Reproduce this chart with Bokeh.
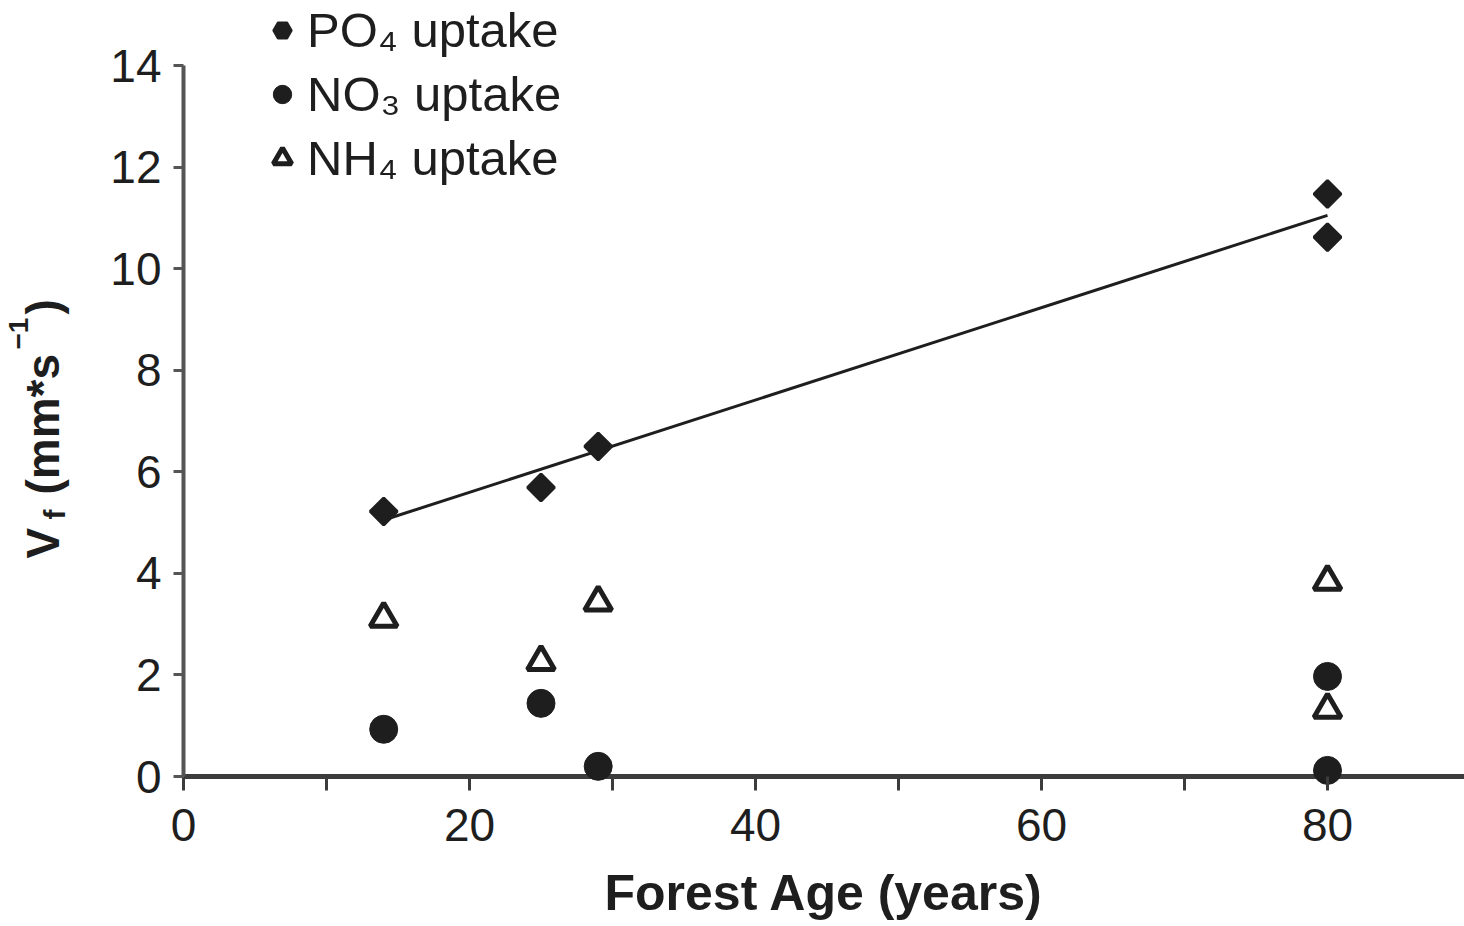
import math

from bokeh.core.properties import value
from bokeh.embed import file_html
from bokeh.layouts import row
from bokeh.models import FixedTicker, Legend, LegendItem, Range1d, Span
from bokeh.plotting import figure
from bokeh.resources import INLINE

# Stream nutrient uptake velocity versus forest age
age = [14, 25, 29, 80, 80]
po4_uptake = [5.22, 5.69, 6.50, 11.47, 10.62]
no3_uptake = [0.93, 1.44, 0.20, 1.97, 0.12]
nh4_uptake = [3.11, 2.26, 3.43, 3.84, 1.32]

# PO4 trend line end points
trend_age = [14, 80]
trend_po4 = [5.05, 11.05]

x_ticks = [0, 20, 40, 60, 80]
x_minor_ticks = [10, 30, 50, 70]
y_ticks = [0, 2, 4, 6, 8, 10, 12, 14]

FONT = "Liberation Sans"
INK = "#1e1e1e"
AXIS = "#3c3c3c"

W, H = 1464, 926
TITLE_W = 100              # strip holding the rotated y title
AXIS_X = 183               # page column of the y axis
LEFT = AXIS_X - TITLE_W    # left border of the main figure
FRAME_H = 790              # frame ends just below the tick marks
BOTTOM = H - FRAME_H

X_END = 89.58
Y_END = 15.28
Y_START = -0.2756          # room under y = 0 for the outward ticks

p = figure(
    width=W - TITLE_W, height=H,
    x_range=Range1d(0, X_END), y_range=Range1d(Y_START, Y_END),
    output_backend="svg", toolbar_location=None,
    min_border_left=LEFT, min_border_right=0,
    min_border_top=0, min_border_bottom=BOTTOM,
)
p.grid.visible = False
p.outline_line_color = None
p.background_fill_color = "white"
p.border_fill_color = "white"

# x axis: line drawn at y = 0, ticks hang below it
xa = p.xaxis[0]
xa.ticker = FixedTicker(ticks=x_ticks, minor_ticks=x_minor_ticks)
xa.axis_line_color = None
xa.major_tick_in = 14
xa.major_tick_out = 0
xa.minor_tick_in = 14
xa.minor_tick_out = 0
xa.major_tick_line_width = 3
xa.minor_tick_line_width = 3
xa.major_tick_line_color = AXIS
xa.minor_tick_line_color = AXIS
xa.major_label_text_font = FONT
xa.major_label_text_font_size = "46px"
xa.major_label_text_color = INK
xa.major_label_standoff = 18
xa.axis_label = "Forest Age (years)"
xa.axis_label_text_font = FONT
xa.axis_label_text_font_style = "bold"
xa.axis_label_text_font_size = "50px"
xa.axis_label_text_color = INK
xa.axis_label_standoff = 21
p.add_layout(Span(location=0, dimension="width", line_color=AXIS,
                  line_width=5, level="underlay"))

ya = p.yaxis[0]
ya.bounds = (0, 14)
ya.ticker = FixedTicker(ticks=y_ticks, minor_ticks=[])
ya.axis_line_color = "#555555"
ya.axis_line_width = 4
ya.major_tick_in = 0
ya.major_tick_out = 10
ya.minor_tick_out = 0
ya.major_tick_line_width = 3
ya.major_tick_line_color = "#555555"
ya.major_label_text_font = FONT
ya.major_label_text_font_size = "46px"
ya.major_label_text_color = INK
ya.major_label_standoff = 12

# data
p.line(trend_age, trend_po4, line_color=INK, line_width=3)
r_nh4 = p.scatter(age, nh4_uptake, marker="triangle", size=27,
                  fill_color="white", line_color=INK, line_width=5)
r_no3 = p.scatter(age, no3_uptake, marker="circle", size=28,
                  fill_color=INK, line_color=INK, line_width=1)
# key glyph for the legend, fully covered by the turned squares on top
r_po4_key = p.scatter(age, po4_uptake, marker="hex", size=18,
                      fill_color=INK, line_color=INK, line_width=2)
p.scatter(age, po4_uptake, marker="square", angle=math.pi / 4,
          size=19, fill_color=INK, line_color=INK, line_width=3)

legend = Legend(
    items=[
        LegendItem(label="PO\u2084 uptake", renderers=[r_po4_key]),
        LegendItem(label="NO\u2083 uptake", renderers=[r_no3]),
        LegendItem(label="NH\u2084 uptake", renderers=[r_nh4]),
    ],
    location=(76, FRAME_H - 190),
    orientation="vertical",
    glyph_width=46, glyph_height=64,
    label_standoff=2, spacing=0, padding=0, margin=0,
    label_text_font=FONT, label_text_font_size="49px", label_text_color=INK,
    border_line_color=None, background_fill_alpha=0,
)
p.add_layout(legend)

# left strip with the rotated y title: V_f (mm*s^-1)
# its frame lines up with the main frame (same top and bottom borders)
t = figure(
    width=TITLE_W, height=H,
    x_range=Range1d(0, TITLE_W), y_range=Range1d(0, FRAME_H),
    x_axis_type=None, y_axis_type=None,
    output_backend="svg", toolbar_location=None,
    min_border_left=0, min_border_right=0,
    min_border_top=0, min_border_bottom=BOTTOM,
)
t.grid.visible = False
t.outline_line_color = None
t.background_fill_color = "white"
t.border_fill_color = "white"

title_parts = [
    ("V", 42, 558, "46px"),
    ("f", 54, 519, "30px"),
    ("(mm*s", 42, 494, "46px"),
    ("\u22121", 18, 349, "28px"),
    (")", 42, 314, "46px"),
]
for txt, px, py, size in title_parts:
    t.text(x=[px], y=[FRAME_H - py], text=[txt], angle=math.pi / 2,
           text_align="left", text_baseline="alphabetic",
           text_font=value(FONT), text_font_style="bold",
           text_font_size=size, text_color=INK)

layout = row(t, p, spacing=0)
open("out.html", "w").write(file_html(layout, INLINE))
